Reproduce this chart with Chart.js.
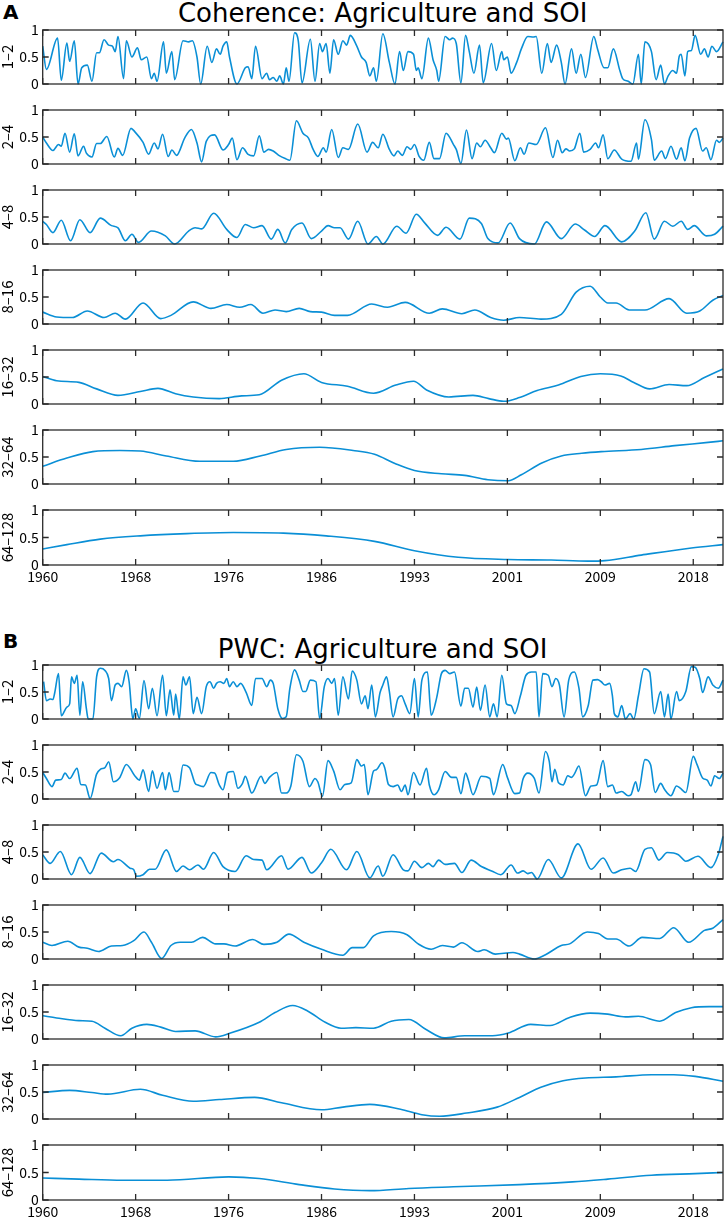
<!DOCTYPE html>
<html>
<head>
<meta charset="utf-8">
<script src="https://cdn.jsdelivr.net/npm/chart.js@4.4.1/dist/chart.umd.min.js"></script>
<style>
  body { margin:0; background:#fff; width:726px; height:1221px; position:relative; overflow:hidden; font-family:"DejaVu Sans", sans-serif; }
  .panel { position:absolute; left:0; width:726px; }
  .tag { position:absolute; left:3px; font-family:"DejaVu Sans", sans-serif; font-weight:bold; font-size:20px; line-height:20px; color:#000; }
  .ttl { position:absolute; left:42.7px; width:680px; text-align:center; font-family:"DejaVu Sans", sans-serif; font-size:26px; line-height:26px; color:#000; white-space:nowrap; }
</style>
</head>
<body>
<div class="tag" style="top:2px">A</div>
<div class="ttl" style="top:0px">Coherence: Agriculture and SOI</div>
<div class="tag" style="top:631px">B</div>
<div class="ttl" style="top:636px">PWC: Agriculture and SOI</div>
<script>
// x is a sample index along the record, ticks every 100 samples
const tickPos = [0, 100, 200, 300, 400, 500, 600, 700];
const tickLabels = ['1960', '1968', '1976', '1986', '1993', '2001', '2009', '2018'];
const xMax = 732;
const bandLabels = ['1\u20132', '2\u20134', '4\u20138', '8\u201316', '16\u201332', '32\u201364', '64\u2013128'];

// ---- A: coherence ----
const cohT1 = [0,4,16,20,26,29,34,38,42,48,53,58,61,66,71,75,78,81,87,90,96,102,106,112,117,120,123,130,133,139,142,151,157,161,166,170,177,182,187,191,194,198,201,209,218,221,225,229,236,241,244,248,252,255,259,262,265,271,275,279,288,293,298,301,305,309,313,318,323,327,331,338,343,348,352,356,359,366,373,379,384,388,393,399,402,404,408,415,420,424,426,433,438,441,445,450,455,459,464,470,474,483,488,494,496,500,504,510,515,522,528,531,537,543,547,553,558,562,569,574,579,584,593,597,604,608,614,621,624,630,635,641,644,648,655,660,665,669,673,678,682,685,687,691,694,698,702,708,712,716,720,725,732];
const cohV1 = [0.70,0.27,0.85,0.07,0.76,0.42,0.80,0.00,0.30,0.35,0.05,0.58,0.58,0.82,0.72,0.70,0.60,0.88,0.10,0.80,0.50,0.67,0.45,0.50,0.10,0.20,0.05,0.78,0.20,0.60,0.08,0.80,0.78,0.80,0.50,0.00,0.70,0.40,0.65,0.55,0.70,0.78,0.50,0.00,0.30,0.32,0.10,0.70,0.10,0.20,0.08,0.12,0.05,0.15,0.00,0.30,0.05,0.95,0.80,0.02,0.83,0.05,0.75,0.60,0.75,0.20,0.82,0.55,0.80,0.72,0.90,0.70,0.50,0.40,0.15,0.30,0.05,0.93,0.40,0.00,0.60,0.25,0.60,0.55,0.25,0.30,0.10,0.85,0.45,0.25,0.05,0.88,0.82,0.85,0.75,0.02,0.90,0.60,0.20,0.72,0.02,0.75,0.25,0.60,0.45,0.50,0.20,0.40,0.65,0.88,0.87,0.88,0.20,0.75,0.40,0.72,0.40,0.00,0.65,0.20,0.55,0.12,0.88,0.65,0.30,0.30,0.65,0.25,0.10,0.05,0.00,0.55,0.00,0.78,0.60,0.08,0.35,0.00,0.15,0.25,0.20,0.52,0.55,0.15,0.60,0.62,0.90,0.55,0.65,0.50,0.70,0.60,0.78];

const cohT2 = [0,4,11,17,20,24,29,34,38,44,47,53,58,62,69,77,81,86,95,99,108,114,120,124,129,135,139,144,153,160,166,171,176,185,194,200,204,209,215,221,227,233,238,243,248,255,261,266,273,280,286,291,296,302,305,311,318,323,329,339,349,355,361,366,373,378,382,387,392,396,400,405,410,416,421,427,434,442,445,450,456,462,467,471,476,482,486,494,499,501,508,514,518,523,531,541,549,554,559,563,567,572,578,582,589,595,598,603,608,615,623,633,639,641,648,655,658,666,670,676,682,687,691,696,703,710,714,719,725,728,732];
const cohV2 = [0.50,0.39,0.25,0.36,0.33,0.57,0.22,0.56,0.15,0.33,0.20,0.13,0.38,0.38,0.51,0.13,0.29,0.16,0.66,0.60,0.40,0.18,0.39,0.28,0.55,0.14,0.26,0.16,0.49,0.64,0.39,0.04,0.42,0.54,0.26,0.36,0.48,0.08,0.30,0.18,0.15,0.52,0.22,0.27,0.24,0.15,0.10,0.07,0.80,0.57,0.48,0.27,0.14,0.30,0.22,0.64,0.12,0.30,0.27,0.74,0.22,0.40,0.30,0.55,0.27,0.15,0.24,0.16,0.32,0.27,0.36,0.14,0.07,0.40,0.10,0.10,0.57,0.36,0.27,0.01,0.63,0.10,0.39,0.32,0.44,0.30,0.21,0.57,0.46,0.48,0.06,0.30,0.18,0.39,0.36,0.67,0.12,0.44,0.21,0.28,0.24,0.28,0.57,0.22,0.27,0.39,0.30,0.54,0.10,0.26,0.09,0.05,0.39,0.09,0.82,0.45,0.07,0.24,0.10,0.33,0.09,0.30,0.06,0.48,0.66,0.24,0.30,0.08,0.44,0.40,0.48];

const cohT3 = [0,4,11,20,30,40,51,62,74,81,89,96,103,117,132,142,157,164,171,184,198,209,218,227,236,246,253,261,268,279,289,300,307,314,320,329,339,350,359,366,381,391,402,411,425,434,449,459,472,479,490,503,513,529,542,558,573,583,594,605,623,637,649,658,669,678,687,694,701,714,723,732];
const cohV3 = [0.42,0.36,0.21,0.44,0.06,0.45,0.21,0.48,0.34,0.30,0.06,0.18,0.03,0.24,0.15,0.00,0.24,0.30,0.28,0.57,0.27,0.12,0.36,0.30,0.34,0.09,0.27,0.02,0.27,0.39,0.10,0.24,0.34,0.30,0.30,0.09,0.42,0.00,0.14,0.00,0.33,0.20,0.55,0.39,0.16,0.31,0.09,0.48,0.38,0.10,0.02,0.39,0.10,0.00,0.41,0.10,0.37,0.26,0.14,0.34,0.04,0.24,0.58,0.09,0.42,0.33,0.42,0.27,0.34,0.15,0.18,0.33];

const cohT4 = [0,15,32,48,66,78,89,108,127,138,162,181,198,212,224,237,250,262,276,288,300,314,328,354,371,390,416,430,451,465,482,496,513,536,558,574,589,600,608,617,631,648,674,693,707,721,732];
const cohV4 = [0.22,0.13,0.12,0.24,0.12,0.20,0.09,0.39,0.10,0.16,0.41,0.29,0.36,0.31,0.36,0.20,0.26,0.23,0.29,0.23,0.22,0.16,0.16,0.37,0.31,0.40,0.20,0.28,0.19,0.26,0.12,0.07,0.12,0.09,0.18,0.59,0.70,0.50,0.39,0.39,0.26,0.26,0.47,0.20,0.24,0.44,0.53];

const cohT5 = [0,15,39,58,81,105,124,143,162,190,214,233,257,281,300,328,356,380,399,413,437,463,480,496,513,532,555,579,600,622,636,653,674,693,712,732];
const cohV5 = [0.51,0.43,0.40,0.28,0.16,0.23,0.29,0.19,0.13,0.10,0.15,0.17,0.44,0.56,0.40,0.33,0.20,0.35,0.42,0.26,0.13,0.16,0.10,0.05,0.12,0.25,0.35,0.51,0.56,0.52,0.40,0.28,0.36,0.34,0.49,0.65];

const cohT6 = [0,26,54,83,105,133,169,205,234,262,298,334,357,379,400,429,454,479,501,515,537,558,580,601,644,680,716,732];
const cohV6 = [0.33,0.48,0.60,0.62,0.61,0.52,0.42,0.42,0.52,0.64,0.68,0.62,0.55,0.38,0.25,0.19,0.16,0.08,0.06,0.17,0.39,0.52,0.57,0.60,0.64,0.71,0.77,0.80];

const cohT7 = [0,26,62,105,155,205,259,305,357,400,447,501,547,587,605,644,698,732];
const cohV7 = [0.29,0.37,0.47,0.53,0.57,0.59,0.58,0.53,0.43,0.26,0.14,0.10,0.09,0.07,0.08,0.18,0.31,0.37];

// ---- B: PWC ----
const pwcT1 = [1,4,8,11,13,17,20,26,29,31,34,37,40,43,47,49,54,58,62,67,71,74,78,81,85,90,93,97,100,104,109,114,118,123,129,133,137,141,143,147,151,154,158,162,166,171,176,180,184,187,191,195,198,201,205,209,213,219,225,229,236,241,245,248,253,258,262,266,271,276,280,283,288,294,298,303,307,311,314,318,323,329,333,338,343,347,350,354,358,363,366,370,373,377,382,386,390,395,400,404,408,414,418,424,429,433,438,443,450,454,458,463,467,471,476,481,485,489,494,499,504,508,514,520,526,531,534,538,544,548,552,556,561,566,572,577,581,587,592,597,601,605,610,613,615,619,623,627,632,636,641,647,653,658,665,669,673,676,682,685,692,698,702,707,710,716,721,727,732];
const pwcV1 = [0.69,0.34,0.37,0.36,0.49,0.84,0.06,0.22,0.28,0.78,0.66,0.81,0.07,0.69,0.19,0.00,0.00,0.78,0.94,0.90,0.75,0.34,0.63,0.66,0.60,0.90,0.69,0.00,0.19,0.01,0.71,0.19,0.57,0.06,0.81,0.06,0.54,0.07,0.46,0.00,0.78,0.63,0.78,0.10,0.40,0.10,0.60,0.69,0.57,0.66,0.69,0.66,0.75,0.60,0.69,0.60,0.66,0.49,0.25,0.75,0.75,0.60,0.72,0.66,0.19,0.01,0.04,0.57,0.91,0.72,0.51,0.51,0.72,0.69,0.01,0.60,0.75,0.66,0.75,0.07,0.78,0.37,0.89,0.72,0.28,0.43,0.19,0.63,0.04,0.49,0.63,0.78,0.51,0.04,0.37,0.43,0.28,0.10,0.75,0.04,0.72,0.87,0.07,0.40,0.84,0.90,0.84,0.87,0.24,0.57,0.57,0.22,0.59,0.16,0.63,0.04,0.28,0.04,0.81,0.28,0.25,0.10,0.43,0.81,0.87,0.87,0.04,0.84,0.81,0.60,0.75,0.63,0.04,0.72,0.87,0.57,0.04,0.25,0.72,0.73,0.69,0.63,0.66,0.43,0.10,0.04,0.25,0.00,0.10,0.00,0.43,0.93,0.87,0.10,0.51,0.04,0.46,0.00,0.51,0.34,0.51,0.97,0.96,0.75,0.49,0.78,0.63,0.57,0.72];

const pwcT2 = [0,4,10,14,20,24,29,37,41,46,51,58,62,67,71,76,83,90,99,104,108,114,118,123,129,132,136,141,146,151,158,164,167,173,181,185,190,194,199,205,210,215,218,225,235,239,244,252,257,262,267,273,280,287,293,296,301,307,313,320,325,332,338,343,346,350,356,359,365,368,372,377,382,386,390,393,399,406,413,416,421,426,433,440,445,450,455,458,463,472,481,485,495,500,508,513,517,522,529,534,541,545,548,551,555,560,565,569,572,577,584,590,596,603,608,613,617,623,630,633,638,641,648,654,659,665,669,676,682,686,692,700,704,710,715,719,723,728,732];
const pwcV2 = [0.49,0.38,0.23,0.35,0.36,0.48,0.38,0.57,0.27,0.26,0.01,0.46,0.55,0.58,0.69,0.32,0.40,0.64,0.43,0.35,0.54,0.14,0.52,0.20,0.49,0.17,0.49,0.14,0.14,0.63,0.58,0.29,0.26,0.23,0.49,0.48,0.26,0.17,0.49,0.51,0.20,0.29,0.42,0.11,0.42,0.29,0.40,0.49,0.11,0.11,0.24,0.82,0.70,0.23,0.38,0.32,0.05,0.71,0.52,0.17,0.27,0.30,0.73,0.61,0.64,0.08,0.52,0.54,0.67,0.58,0.27,0.23,0.26,0.14,0.26,0.08,0.49,0.26,0.57,0.26,0.08,0.17,0.51,0.40,0.40,0.10,0.48,0.35,0.08,0.42,0.38,0.08,0.64,0.40,0.10,0.11,0.38,0.48,0.38,0.11,0.88,0.70,0.32,0.55,0.30,0.26,0.43,0.40,0.46,0.61,0.06,0.24,0.26,0.71,0.23,0.26,0.11,0.14,0.06,0.08,0.32,0.14,0.73,0.64,0.12,0.29,0.18,0.06,0.24,0.20,0.12,0.79,0.64,0.39,0.35,0.24,0.43,0.38,0.48];

const pwcT3 = [0,8,19,31,40,51,63,76,81,94,98,101,108,115,121,133,144,151,158,167,173,184,194,207,219,227,236,241,257,264,279,289,300,310,327,338,352,361,366,377,388,393,400,408,415,420,426,433,443,451,461,472,483,493,504,511,517,522,526,532,544,558,576,590,603,614,623,632,638,648,655,663,672,684,692,705,719,727,732];
const pwcV3 = [0.45,0.29,0.51,0.08,0.40,0.10,0.48,0.32,0.36,0.20,0.17,0.05,0.08,0.18,0.18,0.54,0.14,0.24,0.17,0.26,0.18,0.49,0.23,0.14,0.43,0.36,0.35,0.17,0.43,0.18,0.40,0.11,0.30,0.55,0.17,0.51,0.02,0.24,0.05,0.45,0.17,0.15,0.33,0.21,0.29,0.23,0.35,0.27,0.29,0.12,0.35,0.23,0.15,0.08,0.26,0.11,0.15,0.10,0.12,0.00,0.36,0.02,0.65,0.18,0.39,0.11,0.17,0.20,0.14,0.55,0.58,0.35,0.49,0.45,0.33,0.42,0.21,0.46,0.79];

const pwcT4 = [0,10,27,39,48,60,74,86,98,109,117,128,138,148,160,172,186,195,207,226,238,252,265,281,300,323,333,345,356,375,392,404,418,430,442,451,468,475,487,506,513,529,541,558,567,586,598,608,617,631,645,664,679,695,712,721,732];
const pwcV4 = [0.31,0.25,0.33,0.22,0.20,0.14,0.24,0.25,0.34,0.50,0.31,0.01,0.25,0.31,0.31,0.40,0.28,0.28,0.24,0.36,0.27,0.31,0.46,0.31,0.18,0.07,0.21,0.21,0.43,0.51,0.45,0.28,0.18,0.25,0.22,0.30,0.14,0.17,0.09,0.12,0.09,0.00,0.08,0.25,0.28,0.50,0.47,0.37,0.37,0.24,0.40,0.38,0.58,0.31,0.53,0.57,0.73];

const pwcT5 = [0,15,39,53,67,84,96,112,127,143,164,186,202,233,250,269,285,304,321,337,356,375,394,413,432,454,484,501,525,546,567,589,608,627,641,664,681,698,717,732];
const pwcV5 = [0.43,0.39,0.34,0.33,0.20,0.06,0.20,0.27,0.22,0.14,0.15,0.04,0.11,0.31,0.49,0.62,0.52,0.31,0.20,0.21,0.20,0.33,0.36,0.17,0.02,0.06,0.06,0.11,0.27,0.25,0.40,0.48,0.46,0.41,0.42,0.33,0.49,0.58,0.60,0.60];

const pwcT6 = [0,29,53,70,105,129,162,190,228,257,300,323,352,385,408,427,456,489,513,536,560,584,617,655,679,702,732];
const pwcV6 = [0.49,0.53,0.49,0.46,0.55,0.44,0.33,0.36,0.40,0.30,0.17,0.22,0.27,0.18,0.08,0.05,0.11,0.22,0.40,0.59,0.71,0.76,0.78,0.82,0.82,0.79,0.70];

const pwcT7 = [0,39,86,134,200,233,276,314,352,394,442,513,570,608,655,702,732];
const pwcV7 = [0.40,0.38,0.36,0.36,0.42,0.39,0.28,0.20,0.17,0.21,0.24,0.28,0.33,0.38,0.45,0.48,0.50];

const cohSeries = [[cohT1,cohV1],[cohT2,cohV2],[cohT3,cohV3],[cohT4,cohV4],[cohT5,cohV5],[cohT6,cohV6],[cohT7,cohV7]];
const pwcSeries = [[pwcT1,pwcV1],[pwcT2,pwcV2],[pwcT3,pwcV3],[pwcT4,pwcV4],[pwcT5,pwcV5],[pwcT6,pwcV6],[pwcT7,pwcV7]];

// layout
const LINE = '#0a8fd6';
const AXIS = '#2b2b2b';
const TICK = 6;
const plotLeft = 42.7, plotRight = 723, panelH = 56, padTop = 10, step = 79.9;
const font = { family: '"Noto Sans CJK JP", "Liberation Sans", sans-serif', size: 14, lineHeight: 1 };
const bandFont = { family: '"Noto Sans CJK JP", "Liberation Sans", sans-serif', size: 15, lineHeight: 1 };

// box round the plot with inside tick marks on all four sides
const frame = {
  id: 'frame',
  afterDatasetsDraw(chart) {
    const { ctx, chartArea: a, scales: { x, y } } = chart;
    ctx.save();
    ctx.strokeStyle = AXIS;
    ctx.lineWidth = 1.3;
    ctx.strokeRect(a.left, a.top, a.right - a.left, a.bottom - a.top);
    ctx.beginPath();
    x.ticks.forEach(t => {
      const px = x.getPixelForValue(t.value);
      ctx.moveTo(px, a.top); ctx.lineTo(px, a.top + TICK);
      ctx.moveTo(px, a.bottom); ctx.lineTo(px, a.bottom - TICK);
    });
    y.ticks.forEach(t => {
      const py = y.getPixelForValue(t.value);
      ctx.moveTo(a.left, py); ctx.lineTo(a.left + TICK, py);
      ctx.moveTo(a.right, py); ctx.lineTo(a.right - TICK, py);
    });
    ctx.stroke();
    ctx.restore();
  }
};

function makePanel(top, label, t, v, last) {
  const xh = last ? 24 : 10;
  const box = document.createElement('div');
  box.className = 'panel';
  box.style.top = (top - padTop) + 'px';
  box.style.height = (panelH + padTop + xh) + 'px';
  const cv = document.createElement('canvas');
  box.appendChild(cv);
  document.body.appendChild(box);
  new Chart(cv, {
    type: 'line',
    data: { datasets: [{ data: t.map((x, i) => ({ x, y: v[i] })), borderColor: LINE, borderWidth: 1.6, pointRadius: 0, cubicInterpolationMode: 'monotone', clip: false }] },
    options: {
      responsive: true, maintainAspectRatio: false, animation: false,
      layout: { padding: { top: padTop, left: 0, right: 726 - plotRight, bottom: 0 } },
      plugins: { legend: { display: false }, tooltip: { enabled: false } },
      scales: {
        x: {
          type: 'linear', min: 0, max: xMax,
          grid: { display: false, drawTicks: false }, border: { display: false },
          afterBuildTicks: s => { s.ticks = tickPos.map(value => ({ value })); },
          afterFit: s => { s.height = xh; },
          ticks: { display: last, padding: 5, font, color: '#000', maxRotation: 0, autoSkip: false,
                   callback: val => tickLabels[tickPos.indexOf(val)] }
        },
        y: {
          min: 0, max: 1,
          grid: { display: false, drawTicks: false }, border: { display: false },
          afterBuildTicks: s => { s.ticks = [0, 0.5, 1].map(value => ({ value })); },
          afterFit: s => { s.width = plotLeft; },
          ticks: { padding: 4, font, color: '#000', callback: val => String(val) },
          title: { display: true, text: label, font: bandFont, color: '#000', padding: 0 }
        }
      }
    },
    plugins: [frame]
  });
}

cohSeries.forEach((s, k) => makePanel(29.3 + k * step, bandLabels[k], s[0], s[1], k === 6));
pwcSeries.forEach((s, k) => makePanel(664.3 + k * step, bandLabels[k], s[0], s[1], k === 6));
</script>
</body>
</html>
